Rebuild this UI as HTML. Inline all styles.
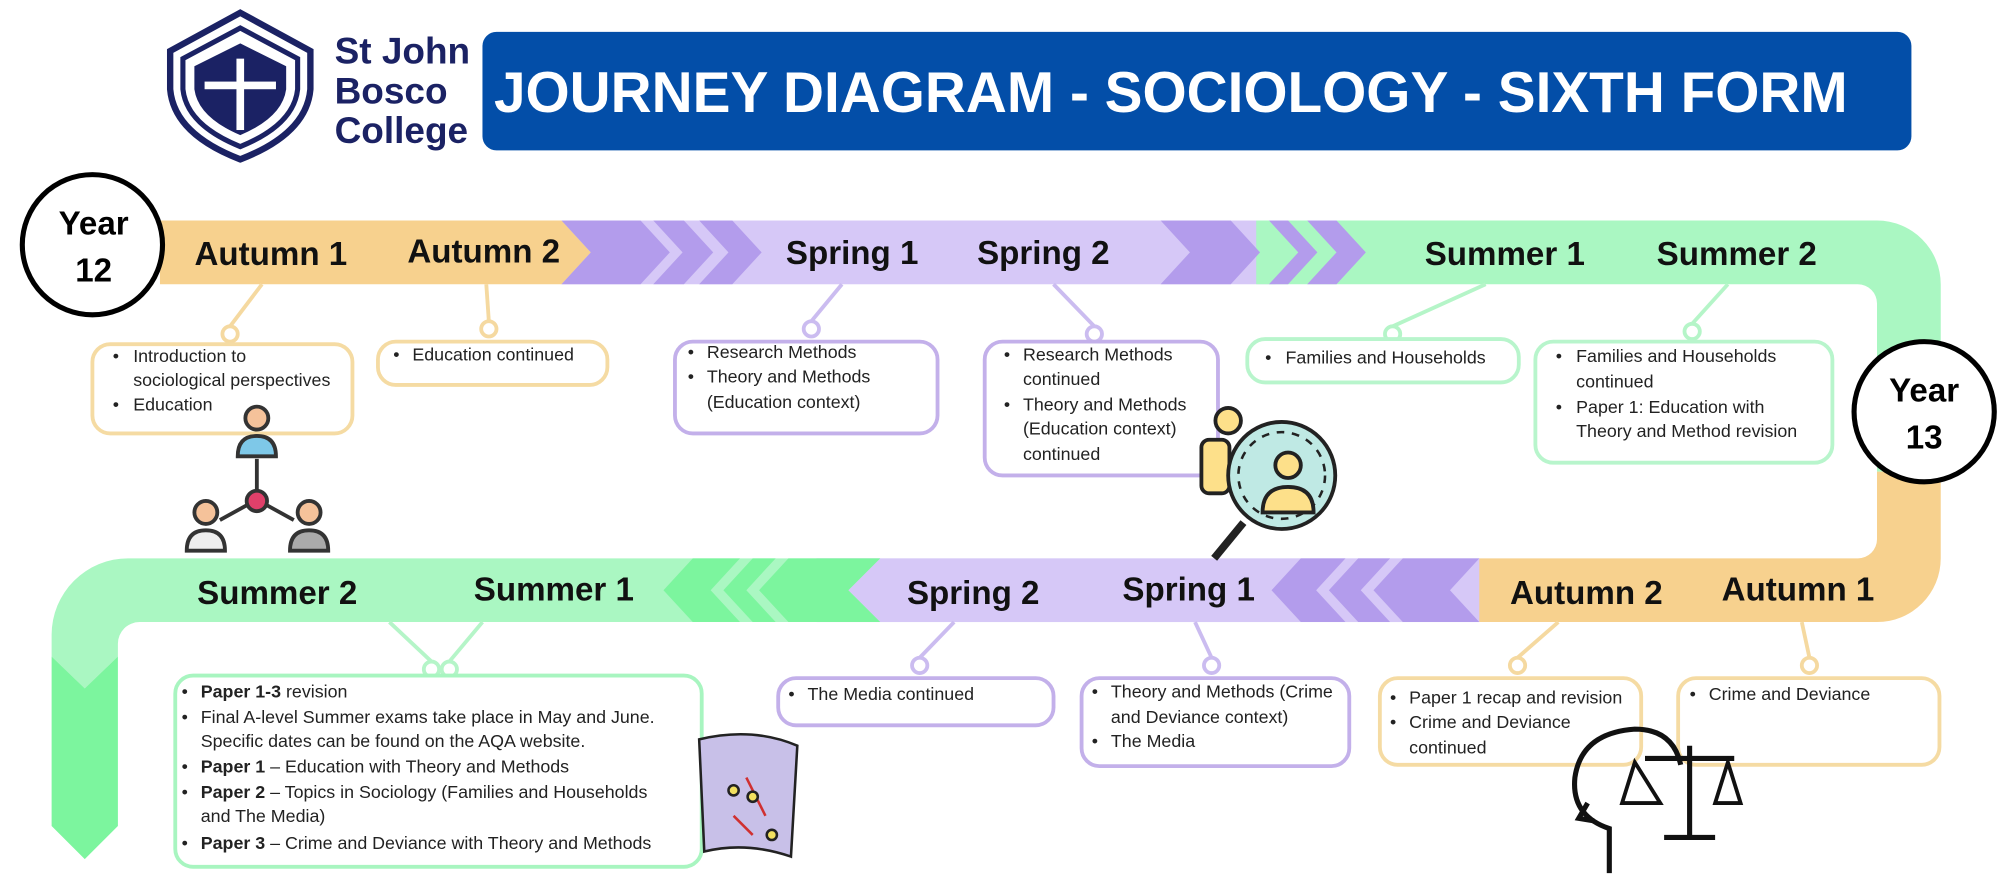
<!DOCTYPE html>
<html><head><meta charset="utf-8"><style>
html,body{margin:0;padding:0;background:#fff;}
svg{display:block;}
text{font-family:"Liberation Sans",sans-serif;}
.lbl{font-size:26px;font-weight:bold;fill:#111;text-anchor:middle;}
.t{font-size:14px;fill:#222;}
.b{font-weight:bold;}
</style></head><body>
<svg width="2000" height="877" viewBox="0 0 1568 688" xmlns="http://www.w3.org/2000/svg">
<!-- logo -->
<g fill="none" stroke="#1b2264">
<path d="M188,10 L243,40 L243,70 Q240,105 188,125 Q136,105 133,70 L133,40 Z" stroke-width="5"/>
<path d="M188,22 L233,46 L233,70 Q230,98 188,115 Q146,98 143,70 L143,46 Z" stroke-width="4"/>
</g>
<path d="M188,34 L224,52 L224,70 Q221,92 188,106 Q155,92 152,70 L152,52 Z" fill="#1b2264"/>
<rect x="185" y="46" width="6" height="56" fill="#fff"/><rect x="160" y="64" width="56" height="6" fill="#fff"/>
<text x="262" y="50" font-family="Liberation Serif,serif" font-size="29" font-weight="bold" fill="#1b2264">St John</text>
<text x="262" y="81" font-family="Liberation Serif,serif" font-size="29" font-weight="bold" fill="#1b2264">Bosco</text>
<text x="262" y="112" font-family="Liberation Serif,serif" font-size="29" font-weight="bold" fill="#1b2264">College</text>
<!-- title -->
<rect x="378" y="25" width="1121" height="93" rx="11" fill="#034ea8"/>
<text x="387" y="88" font-size="45" font-weight="bold" fill="#fff" textLength="1062" lengthAdjust="spacingAndGlyphs">JOURNEY DIAGRAM - SOCIOLOGY - SIXTH FORM</text>

<!-- top band -->
<rect x="440" y="173" width="560" height="50" fill="#d6c8f7"/>
<path d="M985,173 H1472 A50,50 0 0 1 1522,223 V370 H1472 V238 A15,15 0 0 0 1457,223 H985 Z" fill="#aaf7c2"/>
<path d="M125,173 H440 L463,198 L440,223 H125 Z" fill="#f7d18e"/>
<g fill="#b39cec">
<polygon points="440,173 502,173 525,198 502,223 440,223 463,198"/>
<polygon points="512,173 536,173 559,198 536,223 512,223 535,198"/>
<polygon points="548,173 574,173 597,198 574,223 548,223 571,198"/>
<polygon points="910,173 965,173 988,198 965,223 910,223 933,198"/>
<polygon points="995,173 1010,173 1033,198 1010,223 995,223 1018,198"/>
<polygon points="1025,173 1048,173 1071,198 1048,223 1025,223 1048,198"/>
</g>
<!-- right down orange -->
<path d="M1472,370 H1522 V438 A50,50 0 0 1 1472,488 H1160 L1135,463 L1160,438 H1457 A15,15 0 0 0 1472,423 Z" fill="#f7d18e"/>
<!-- bottom band -->
<rect x="640" y="438" width="520" height="50" fill="#d6c8f7"/>
<g fill="#b39cec">
<polygon points="1160,438 1100,438 1077,463 1100,488 1160,488 1137,463"/>
<polygon points="1090,438 1065,438 1042,463 1065,488 1090,488 1067,463"/>
<polygon points="1055,438 1020,438 997,463 1020,488 1055,488 1032,463"/>
</g>
<path d="M690,438 H100 A60,60 0 0 0 40,498 V515 L66,540 L92,515 V505 A17,17 0 0 1 109,488 H690 L665,463 Z" fill="#aaf7c2"/>
<g fill="#7cf59e">
<polygon points="690,438 618,438 595,463 618,488 690,488 665,463"/>
<polygon points="608,438 590,438 567,463 590,488 608,488 585,463"/>
<polygon points="580,438 543,438 520,463 543,488 580,488 557,463"/>
<polygon points="40,515 66,540 92,515 92,648 66,674 40,648"/>
</g>

<!-- labels -->
<text class="lbl" x="212" y="208">Autumn 1</text>
<text class="lbl" x="379" y="206">Autumn 2</text>
<text class="lbl" x="668" y="207">Spring 1</text>
<text class="lbl" x="818" y="207">Spring 2</text>
<text class="lbl" x="1180" y="208">Summer 1</text>
<text class="lbl" x="1362" y="208">Summer 2</text>
<text class="lbl" x="217" y="474">Summer 2</text>
<text class="lbl" x="434" y="471">Summer 1</text>
<text class="lbl" x="763" y="474">Spring 2</text>
<text class="lbl" x="932" y="471">Spring 1</text>
<text class="lbl" x="1244" y="474">Autumn 2</text>
<text class="lbl" x="1410" y="471">Autumn 1</text>

<!-- year circles -->
<circle cx="72" cy="192" r="55" fill="#fff" stroke="#000" stroke-width="4"/>
<text x="73" y="184" font-size="26" font-weight="bold" text-anchor="middle">Year</text>
<text x="73" y="221" font-size="26" font-weight="bold" text-anchor="middle">12</text>
<circle cx="1509" cy="323" r="55" fill="#fff" stroke="#000" stroke-width="4"/>
<text x="1509" y="315" font-size="26" font-weight="bold" text-anchor="middle">Year</text>
<text x="1509" y="352" font-size="26" font-weight="bold" text-anchor="middle">13</text>

<!-- connectors -->
<g fill="#fff" stroke-width="3">
<g stroke="#f5d9a0"><path d="M205,223 L180,256"/><circle cx="180" cy="262" r="6"/>
<path d="M381,223 L383,252"/><circle cx="383" cy="258" r="6"/>
<path d="M1222,488 L1190,516"/><circle cx="1190" cy="522" r="6"/>
<path d="M1413,488 L1419,516"/><circle cx="1419" cy="522" r="6"/></g>
<g stroke="#cbbcf0"><path d="M660,223 L636,252"/><circle cx="636" cy="258" r="6"/>
<path d="M826,223 L858,256"/><circle cx="858" cy="262" r="6"/>
<path d="M748,488 L721,516"/><circle cx="721" cy="522" r="6"/>
<path d="M937,488 L950,516"/><circle cx="950" cy="522" r="6"/></g>
<g stroke="#b5f5c8"><path d="M1165,223 L1092,256"/><circle cx="1092" cy="262" r="6"/>
<path d="M1355,223 L1327,254"/><circle cx="1327" cy="260" r="6"/>
<path d="M305,488 L338,519 M378,488 L352,519"/><circle cx="338" cy="525" r="6"/><circle cx="352" cy="525" r="6"/></g>
</g>

<!-- boxes -->
<g fill="#fff" stroke-width="3">
<rect x="72" y="270" width="204" height="70" rx="14" stroke="#f5dba3"/>
<rect x="296" y="268" width="180" height="34" rx="14" stroke="#f5dba3"/>
<rect x="529" y="268" width="206" height="72" rx="14" stroke="#c3b0ea"/>
<rect x="772" y="268" width="183" height="105" rx="14" stroke="#c3b0ea"/>
<rect x="978" y="266" width="213" height="34" rx="14" stroke="#b8f5cc"/>
<rect x="1204" y="268" width="233" height="95" rx="14" stroke="#b8f5cc"/>
<rect x="137" y="530" width="413" height="150" rx="14" stroke="#a8f5c0"/>
<rect x="610" y="532" width="216" height="37" rx="14" stroke="#c3b0ea"/>
<rect x="848" y="532" width="210" height="69" rx="14" stroke="#c3b0ea"/>
<rect x="1082" y="532" width="205" height="68" rx="14" stroke="#f5dba3"/>
<rect x="1316" y="532" width="205" height="68" rx="14" stroke="#f5dba3"/>
</g>

<g class="t">
<text x="88" y="284" class="t">•</text><text x="104" y="284" class="t">Introduction to</text>
<text x="104" y="303" class="t">sociological perspectives</text>
<text x="88" y="322" class="t">•</text><text x="104" y="322" class="t">Education</text>
<text x="308" y="283" class="t">•</text><text x="323" y="283" class="t">Education continued</text>
<text x="539" y="281" class="t">•</text><text x="554" y="281" class="t">Research Methods</text>
<text x="539" y="300" class="t">•</text><text x="554" y="300" class="t">Theory and Methods</text>
<text x="554" y="320" class="t">(Education context)</text>
<text x="787" y="283" class="t">•</text><text x="802" y="283" class="t">Research Methods</text>
<text x="802" y="302" class="t">continued</text>
<text x="787" y="322" class="t">•</text><text x="802" y="322" class="t">Theory and Methods</text>
<text x="802" y="341" class="t">(Education context)</text>
<text x="802" y="361" class="t">continued</text>
<text x="992" y="285" class="t">•</text><text x="1008" y="285" class="t">Families and Households</text>
<text x="1220" y="284" class="t">•</text><text x="1236" y="284" class="t">Families and Households</text>
<text x="1236" y="304" class="t">continued</text>
<text x="1220" y="324" class="t">•</text><text x="1236" y="324" class="t">Paper 1: Education with</text>
<text x="1236" y="343" class="t">Theory and Method revision</text>

<text x="142" y="547" class="t">•</text><text x="157" y="547" class="t"><tspan class="b">Paper 1-3</tspan> revision</text>
<text x="142" y="567" class="t">•</text><text x="157" y="567" class="t">Final A-level Summer exams take place in May and June.</text>
<text x="157" y="586" class="t">Specific dates can be found on the AQA website.</text>
<text x="142" y="606" class="t">•</text><text x="157" y="606" class="t"><tspan class="b">Paper 1</tspan> – Education with Theory and Methods</text>
<text x="142" y="626" class="t">•</text><text x="157" y="626" class="t"><tspan class="b">Paper 2</tspan> – Topics in Sociology (Families and Households</text>
<text x="157" y="645" class="t">and The Media)</text>
<text x="142" y="666" class="t">•</text><text x="157" y="666" class="t"><tspan class="b">Paper 3</tspan> – Crime and Deviance with Theory and Methods</text>
<text x="618" y="549" class="t">•</text><text x="633" y="549" class="t">The Media continued</text>
<text x="856" y="547" class="t">•</text><text x="871" y="547" class="t">Theory and Methods (Crime</text>
<text x="871" y="567" class="t">and Deviance context)</text>
<text x="856" y="586" class="t">•</text><text x="871" y="586" class="t">The Media</text>
<text x="1090" y="552" class="t">•</text><text x="1105" y="552" class="t">Paper 1 recap and revision</text>
<text x="1090" y="571" class="t">•</text><text x="1105" y="571" class="t">Crime and Deviance</text>
<text x="1105" y="591" class="t">continued</text>
<text x="1325" y="549" class="t">•</text><text x="1340" y="549" class="t">Crime and Deviance</text>
</g>

<!-- network icon -->
<g stroke="#333" stroke-width="3" fill="none">
<path d="M201,360 V392 M201,392 L172,408 M201,392 L230,408"/>
</g>
<circle cx="201" cy="393" r="8" fill="#e0406a" stroke="#333" stroke-width="3"/>
<g stroke="#333" stroke-width="3">
<circle cx="201" cy="328" r="9" fill="#f5c29a"/><path d="M186,358 Q186,342 201,342 Q216,342 216,358 Z" fill="#7ec8e8"/>
<circle cx="161" cy="402" r="9" fill="#f5c29a"/><path d="M146,432 Q146,416 161,416 Q176,416 176,432 Z" fill="#eee"/>
<circle cx="242" cy="402" r="9" fill="#f5c29a"/><path d="M227,432 Q227,416 242,416 Q257,416 257,432 Z" fill="#aaa"/>
</g>
<!-- magnifier icon -->
<g stroke="#222" stroke-width="3">
<circle cx="963" cy="330" r="10" fill="#fde08a"/>
<rect x="942" y="345" width="22" height="42" rx="6" fill="#fde08a"/>
<path d="M975,410 L952,438" stroke-width="6"/>
<circle cx="1005" cy="373" r="42" fill="#bfe9e4"/>
<circle cx="1005" cy="373" r="34" fill="none" stroke-dasharray="6 6" stroke-width="2"/>
<circle cx="1010" cy="365" r="10" fill="#fde08a"/>
<path d="M990,402 Q990,382 1010,382 Q1030,382 1030,402 Z" fill="#fde08a"/>
</g>
<!-- book icon -->
<g stroke="#222" stroke-width="2">
<path d="M548,580 Q590,570 625,585 L620,672 Q585,660 552,668 Z" fill="#c8c0e8"/>
<path d="M585,610 L600,640 M575,640 L590,655" stroke="#d03030"/>
<circle cx="575" cy="620" r="4" fill="#f2e060"/><circle cx="590" cy="625" r="4" fill="#f2e060"/><circle cx="605" cy="655" r="4" fill="#f2e060"/>
</g>
<!-- head & scales icon -->
<g stroke="#111" stroke-width="4" fill="none">
<path d="M1262,685 V650 Q1232,640 1235,610 Q1240,575 1282,572 Q1312,572 1318,600"/>
<path d="M1245,630 L1238,642 L1250,644"/>
<path d="M1325,585 V657 M1305,657 H1345 M1290,595 H1360"/>
<path d="M1282,598 L1272,630 H1302 Z M1355,598 L1345,630 H1365 Z" stroke-width="3"/>
</g>
</svg>
</body></html>
